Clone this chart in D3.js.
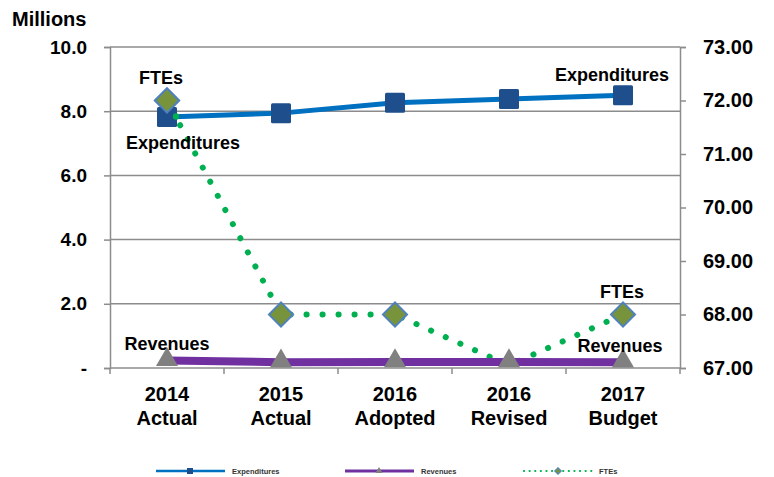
<!DOCTYPE html>
<html><head><meta charset="utf-8">
<script src="https://cdn.jsdelivr.net/npm/d3@7"></script>
<style>
html,body{margin:0;padding:0;background:#fff;}
text{font-family:"Liberation Sans",Arial,sans-serif;font-weight:bold;}
</style></head>
<body>
<script>
const categories = [["2014","Actual"],["2015","Actual"],["2016","Adopted"],["2016","Revised"],["2017","Budget"]];
const expenditures = [7.82, 7.94, 8.26, 8.38, 8.50];
const revenues = [0.23, 0.18, 0.19, 0.19, 0.18];
const ftes = [72.0, 68.0, 68.0, 67.05, 68.0];
const leftTicks = [0, 2, 4, 6, 8, 10];
const rightTicks = [67, 68, 69, 70, 71, 72, 73];

const W = 774, H = 477;
const M = {left:110, right:680, top:47, bottom:368};
const svg = d3.select("body").append("svg").attr("width",W).attr("height",H);

const x = d3.scaleBand().domain(d3.range(categories.length)).range([M.left, M.right]);
const cx = i => x(i) + x.bandwidth()/2;
const yL = d3.scaleLinear().domain([0,10]).range([M.bottom, M.top]);
const yR = d3.scaleLinear().domain([67,73]).range([M.bottom, M.top]);
const grey = "#8c8c8c";

// gridlines
svg.append("g").selectAll("line").data(leftTicks.filter(d=>d>0)).join("line")
  .attr("x1",M.left).attr("x2",M.right).attr("y1",d=>yL(d)).attr("y2",d=>yL(d))
  .attr("stroke",grey).attr("stroke-width",1.5);

// left axis
const gL = svg.append("g").attr("transform",`translate(${M.left},0)`)
  .call(d3.axisLeft(yL).tickValues(leftTicks).tickSize(6).tickPadding(17)
    .tickFormat(d => d===0 ? "-" : d3.format(".1f")(d)));
gL.select(".domain").attr("stroke",grey).attr("stroke-width",1.5);
gL.selectAll(".tick line").attr("stroke",grey).attr("stroke-width",1.5);
gL.selectAll(".tick text").attr("font-size",19).attr("fill","#000")
  .attr("font-family","Liberation Sans, Arial, sans-serif").attr("font-weight","bold");

// right axis
const gR = svg.append("g").attr("transform",`translate(${M.right},0)`)
  .call(d3.axisRight(yR).tickValues(rightTicks).tickSize(6).tickPadding(17)
    .tickFormat(d3.format(".2f")));
gR.select(".domain").attr("stroke",grey).attr("stroke-width",1.5);
gR.selectAll(".tick line").attr("stroke",grey).attr("stroke-width",1.5);
gR.selectAll(".tick text").attr("font-size",20).attr("fill","#000")
  .attr("font-family","Liberation Sans, Arial, sans-serif").attr("font-weight","bold");

// bottom axis
svg.append("line").attr("x1",M.left).attr("x2",M.right).attr("y1",M.bottom).attr("y2",M.bottom)
  .attr("stroke",grey).attr("stroke-width",1.5);
svg.append("g").selectAll("line").data(d3.range(categories.length+1)).join("line")
  .attr("x1",i=>M.left + i*x.step()).attr("x2",i=>M.left + i*x.step())
  .attr("y1",M.bottom).attr("y2",M.bottom+6).attr("stroke",grey).attr("stroke-width",1.5);
const xl = svg.append("g").selectAll("text").data(categories).join("text")
  .attr("x",(d,i)=>cx(i)).attr("text-anchor","middle").attr("font-size",20).attr("fill","#000");
xl.append("tspan").attr("x",(d,i)=>cx(i)).attr("y",401).text(d=>d[0]);
xl.append("tspan").attr("x",(d,i)=>cx(i)).attr("y",425).text(d=>d[1]);

svg.append("text").attr("x",12).attr("y",26).attr("font-size",20).text("Millions");

// FTE dotted line
const lineR = d3.line().x((d,i)=>cx(i)).y(d=>yR(d));
svg.append("path").datum(ftes).attr("d",lineR).attr("fill","none")
  .attr("stroke","#00b050").attr("stroke-width",6).attr("stroke-linecap","round")
  .attr("stroke-dasharray","0.1 15.9").attr("stroke-dashoffset",-12);

// FTE diamonds (point at 2016 Revised hidden)
const dia = d3.symbol().type(d3.symbolSquare).size(290);
svg.append("g").selectAll("path").data(ftes.map((v,i)=>({v,i})).filter(d=>d.i!==3)).join("path")
  .attr("d",dia).attr("transform",d=>`translate(${cx(d.i)},${yR(d.v)}) rotate(45)`)
  .attr("fill","#77933c").attr("stroke","#4f81bd").attr("stroke-width",2);

// Expenditures
const lineL = d3.line().x((d,i)=>cx(i)).y(d=>yL(d));
svg.append("path").datum(expenditures).attr("d",lineL).attr("fill","none")
  .attr("stroke","#0070c0").attr("stroke-width",5);
svg.append("g").selectAll("rect").data(expenditures).join("rect")
  .attr("x",(d,i)=>cx(i)-10).attr("y",d=>yL(d)-10).attr("width",20).attr("height",20).attr("rx",1.5)
  .attr("fill","#1f4e8c");

// Revenues
svg.append("path").datum(revenues).attr("d",lineL).attr("fill","none")
  .attr("stroke","#7030a0").attr("stroke-width",8);
const tri = d3.symbol().type(d3.symbolTriangle).size(210);
svg.append("g").selectAll("path").data(revenues).join("path")
  .attr("d",tri).attr("transform",(d,i)=>`translate(${cx(i)},${yL(d)-1})`)
  .attr("fill","#808080");

// Bring first FTE diamond over expenditure marker
svg.append("path").attr("d",dia).attr("transform",`translate(${cx(0)},${yR(ftes[0])}) rotate(45)`)
  .attr("fill","#77933c").attr("stroke","#4f81bd").attr("stroke-width",2);
svg.append("circle").attr("cx",cx(0)+9).attr("cy",yR(ftes[0])+16).attr("r",3.2).attr("fill","#00b050");

// data labels
const labels = [
  {t:"FTEs", x:cx(0)-6, y:84},
  {t:"Expenditures", x:cx(0)+16, y:149},
  {t:"Expenditures", x:cx(4)-11, y:81},
  {t:"FTEs", x:cx(4)-1, y:298},
  {t:"Revenues", x:cx(0), y:350},
  {t:"Revenues", x:cx(4)-3, y:352}
];
svg.append("g").selectAll("text").data(labels).join("text")
  .attr("x",d=>d.x).attr("y",d=>d.y).attr("text-anchor","middle").attr("font-size",18).text(d=>d.t);

// legend
const ly = 471;
const lg = svg.append("g");
lg.append("line").attr("x1",156).attr("x2",225).attr("y1",ly).attr("y2",ly).attr("stroke","#0070c0").attr("stroke-width",2.5);
lg.append("rect").attr("x",187).attr("y",ly-3).attr("width",6).attr("height",6).attr("fill","#1f4e8c");
lg.append("text").attr("x",232).attr("y",ly+2.5).attr("font-size",7.5).attr("fill","#333").text("Expenditures");
lg.append("line").attr("x1",345).attr("x2",414).attr("y1",ly).attr("y2",ly).attr("stroke","#7030a0").attr("stroke-width",3);
lg.append("path").attr("d",d3.symbol().type(d3.symbolTriangle).size(22)).attr("transform",`translate(379,${ly})`).attr("fill","#808080");
lg.append("text").attr("x",421).attr("y",ly+2.5).attr("font-size",7.5).attr("fill","#333").text("Revenues");
lg.append("line").attr("x1",524).attr("x2",592).attr("y1",ly).attr("y2",ly).attr("stroke","#00b050").attr("stroke-width",2.2)
  .attr("stroke-linecap","round").attr("stroke-dasharray","0.1 5.5");
lg.append("path").attr("d",d3.symbol().type(d3.symbolSquare).size(22)).attr("transform",`translate(558,${ly}) rotate(45)`)
  .attr("fill","#77933c").attr("stroke","#4f81bd").attr("stroke-width",1);
lg.append("text").attr("x",599).attr("y",ly+2.5).attr("font-size",7.5).attr("fill","#333").text("FTEs");
</script>
</body></html>
